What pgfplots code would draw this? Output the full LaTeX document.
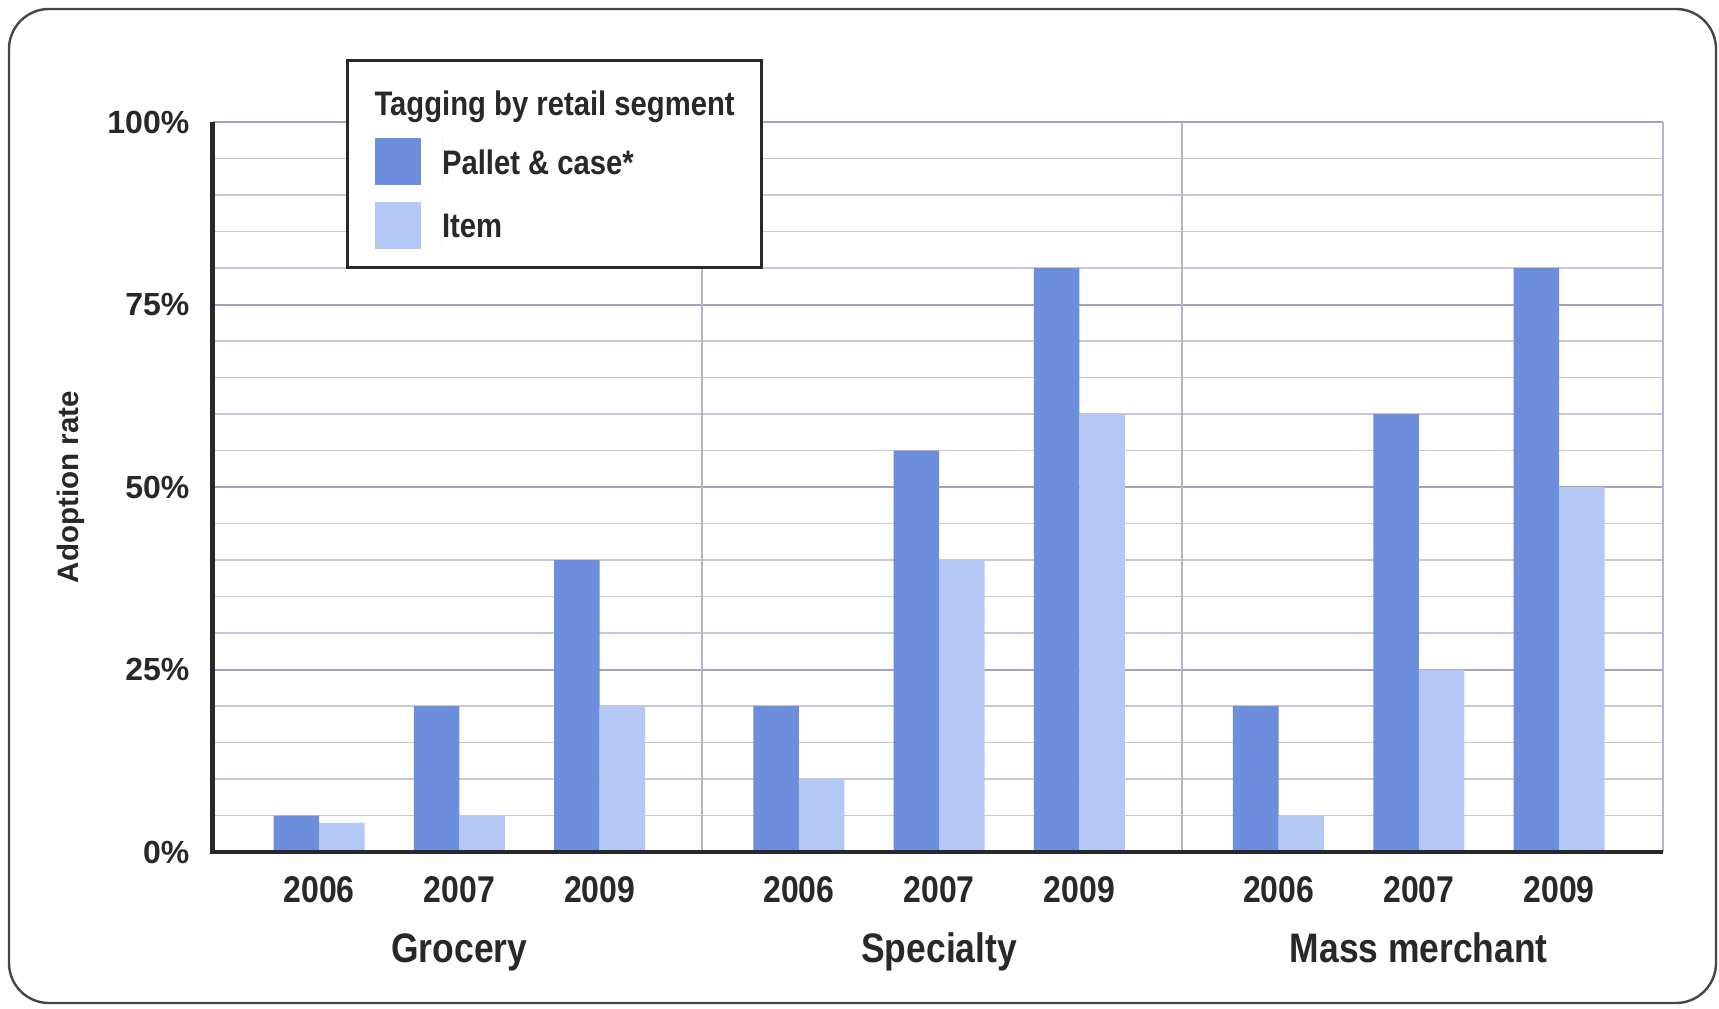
\documentclass[border=0pt]{standalone}
\usepackage{fontspec}
\setmainfont{Liberation Sans}
\newfontfamily\cond{Liberation Sans}[FakeStretch=0.86]
\usepackage{pgfplots}
\pgfplotsset{compat=1.18}
\definecolor{pallet}{RGB}{108,142,220}
\definecolor{item}{RGB}{180,200,246}
\definecolor{mingrid}{RGB}{204,196,216}
\definecolor{majgrid}{RGB}{168,160,184}
\definecolor{sepgrid}{RGB}{185,178,200}
\definecolor{txt}{RGB}{40,40,40}
\definecolor{frame}{RGB}{70,70,70}
\begin{document}
\begin{tikzpicture}
\useasboundingbox (-53.125pt,-39pt) rectangle (376.625pt,213pt);
\fill[white] (-53.125pt,-39pt) rectangle (376.625pt,213pt);
\draw[frame, line width=0.6pt, rounded corners=10pt] (-50.875pt,-37.75pt) rectangle (375.875pt,210.75pt);
\begin{axis}[
  scale only axis, width=362.6pt, height=182.5pt,
  at={(0pt,0pt)}, anchor=south west,
  clip=false,
  xmin=-0.76, xmax=9.58, ymin=0, ymax=100,
  axis line style={draw=none},
  xtick={0,1,2,3.42,4.42,5.42,6.84,7.84,8.84},
  xticklabels={2006,2007,2009,2006,2007,2009,2006,2007,2009},
  xticklabel style={anchor=base, inner sep=0pt, yshift=-12.7pt, font=\cond\bfseries\fontsize{9.3}{10}\selectfont, text=txt},
  ytick={0,25,50,75,100},
  yticklabels={0\%,25\%,50\%,75\%,100\%},
  yticklabel style={anchor=east, inner sep=0pt, xshift=-5.6pt, font=\bfseries\fontsize{8}{9}\selectfont, text=txt},
  minor y tick num=4,
  ymajorgrids, yminorgrids,
  major grid style={majgrid, line width=0.5pt},
  minor grid style={mingrid, line width=0.45pt},
  major tick length=0pt, minor tick length=0pt,
  ylabel={Adoption rate},
  every axis y label/.style={at={(axis description cs:-0.0979,0.5)}, rotate=90, anchor=center, inner sep=0pt, font=\bfseries\fontsize{7.4}{9}\selectfont, text=txt},
  ybar legend/.style={legend image code/.code={\fill[##1] (0pt,-2.8pt) rectangle (11.7pt,8.9pt); \path (16.9pt,-2.8pt) -- (16.9pt,8.9pt);}},
  legend image code/.code={\fill[#1] (0pt,-2.8pt) rectangle (11.7pt,8.9pt); \path (16.9pt,-2.8pt) -- (16.9pt,8.9pt);},
  legend style={at={(axis description cs:0.0919,1.0867)}, anchor=north west,
    draw=txt, line width=0.75pt, fill=white,
    inner xsep=6.8pt, inner ysep=4.6pt, row sep=4.2pt, column sep=0pt,
    font=\cond\bfseries\fontsize{8.5}{10}\selectfont, text=txt,
    nodes={inner sep=0pt}, cells={anchor=base west}},
]
\addlegendimage{empty legend}
\addlegendentry{\hspace*{-16.9pt}\rule{0pt}{9.25pt}Tagging by retail segment}
\addplot[ybar, bar width=0.325, bar shift=-0.1625, fill=pallet, draw=none]
  coordinates {(0,5) (1,20) (2,40) (3.42,20) (4.42,55) (5.42,80) (6.84,20) (7.84,60) (8.84,80)};
\addlegendentry{Pallet \& case*}
\addplot[ybar, bar width=0.325, bar shift=0.1625, fill=item, draw=none]
  coordinates {(0,4) (1,5) (2,20) (3.42,10) (4.42,40) (5.42,60) (6.84,5) (7.84,25) (8.84,50)};
\addlegendentry{Item}
\draw[sepgrid, line width=0.5pt] (axis cs:2.73,0) -- (axis cs:2.73,100);
\draw[sepgrid, line width=0.5pt] (axis cs:6.15,0) -- (axis cs:6.15,100);
\draw[sepgrid, line width=0.5pt] (rel axis cs:1,0) -- (rel axis cs:1,1);
\draw[txt, line width=1.2pt] (rel axis cs:0,1) -- (rel axis cs:0,0) -- (rel axis cs:1,0);
\node[anchor=base, inner sep=0pt, yshift=-27.6pt, font=\cond\bfseries\fontsize{10.3}{12}\selectfont, text=txt] at (axis cs:1,0) {Grocery};
\node[anchor=base, inner sep=0pt, yshift=-27.6pt, font=\cond\bfseries\fontsize{10.3}{12}\selectfont, text=txt] at (axis cs:4.42,0) {Specialty};
\node[anchor=base, inner sep=0pt, yshift=-27.6pt, font=\cond\bfseries\fontsize{10.3}{12}\selectfont, text=txt] at (axis cs:7.84,0) {Mass merchant};
\end{axis}
\end{tikzpicture}
\end{document}
